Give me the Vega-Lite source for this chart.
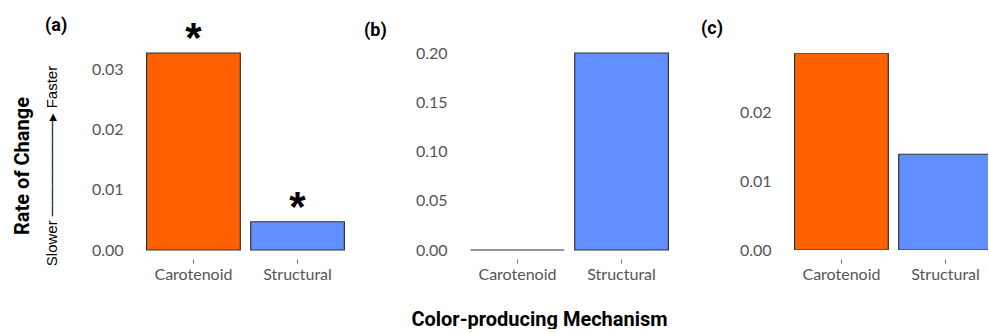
{
  "$schema": "https://vega.github.io/schema/vega-lite/v6.json",
  "padding": {"left": 12, "top": 17, "right": 0, "bottom": 0},
  "datasets": {
    "rates": [
      {"panel": "a", "mechanism": "Carotenoid", "rate": 0.0328, "sig": "*"},
      {"panel": "a", "mechanism": "Structural", "rate": 0.0047, "sig": "*"},
      {"panel": "b", "mechanism": "Carotenoid", "rate": 0.0, "sig": ""},
      {"panel": "b", "mechanism": "Structural", "rate": 0.2, "sig": ""},
      {"panel": "c", "mechanism": "Carotenoid", "rate": 0.0286, "sig": ""},
      {"panel": "c", "mechanism": "Structural", "rate": 0.0139, "sig": ""}
    ]
  },
  "title": {
    "text": "Rate of Change",
    "subtitle": "\u00a0\u00a0\u00a0\u00a0\u00a0Slower ─────────▸ Faster",
    "orient": "left",
    "anchor": "middle",
    "font": "Roboto",
    "fontSize": 20,
    "fontWeight": "bold",
    "color": "black",
    "subtitleFont": "Liberation Sans",
    "subtitleFontSize": 15,
    "subtitleColor": "black",
    "subtitlePadding": 12,
    "offset": -15,
    "dx": 7
  },
  "spacing": 95,
  "bounds": "flush",
  "hconcat": [
    {
      "data": {"name": "rates"},
      "transform": [{"filter": "datum.panel === 'a'"}],
      "width": 229,
      "height": 197,
      "title": {"text": "(a)", "anchor": "start", "frame": "group", "dx": -86, "offset": -31, "baseline": "alphabetic"},
      "layer": [
        {
          "mark": {"type": "bar", "stroke": "#333333", "strokeWidth": 1.2},
          "encoding": {
            "x": {"field": "mechanism", "type": "nominal", "scale": {"paddingInner": 0.1, "paddingOuter": 0.15}, "axis": {"title": null}},
            "y": {"field": "rate", "type": "quantitative", "scale": {"nice": false}, "axis": {"title": null, "values": [0, 0.01, 0.02, 0.03], "format": ".2f"}},
            "color": {"field": "mechanism", "type": "nominal", "scale": {"domain": ["Carotenoid", "Structural"], "range": ["#FF6100", "#628FFF"]}, "legend": null}
          }
        },
        {
          "mark": {"type": "text", "fontSize": 42, "baseline": "alphabetic", "dy": -1, "font": "Liberation Sans", "fontWeight": "bold", "color": "black"},
          "encoding": {
            "x": {"field": "mechanism", "type": "nominal"},
            "y": {"field": "rate", "type": "quantitative"},
            "text": {"field": "sig"}
          }
        }
      ]
    },
    {
      "data": {"name": "rates"},
      "transform": [{"filter": "datum.panel === 'b'"}],
      "width": 229,
      "height": 197,
      "title": {"text": "(b)", "anchor": "start", "frame": "group", "dx": -91, "offset": -9, "baseline": "alphabetic"},
      "mark": {"type": "bar", "stroke": "#333333", "strokeWidth": 1.2},
      "encoding": {
        "x": {"field": "mechanism", "type": "nominal", "scale": {"paddingInner": 0.1, "paddingOuter": 0.15},
              "axis": {"title": "Color-producing Mechanism", "titleFont": "Roboto", "titleFontSize": 20, "titleFontWeight": "bold", "titleColor": "black", "titleX": 84, "titleY": 66, "titleBaseline": "alphabetic", "titleAlign": "center"}},
        "y": {"field": "rate", "type": "quantitative", "scale": {"nice": false}, "axis": {"title": null, "values": [0, 0.05, 0.1, 0.15, 0.2], "format": ".2f"}},
        "color": {"field": "mechanism", "type": "nominal", "scale": {"domain": ["Carotenoid", "Structural"], "range": ["#FF6100", "#628FFF"]}, "legend": null}
      }
    },
    {
      "data": {"name": "rates"},
      "transform": [{"filter": "datum.panel === 'c'"}],
      "width": 209,
      "height": 197,
      "title": {"text": "(c)", "anchor": "start", "frame": "group", "dx": -78, "offset": 1, "baseline": "alphabetic"},
      "mark": {"type": "bar", "stroke": "#333333", "strokeWidth": 1.2, "clip": true},
      "encoding": {
        "x": {"field": "mechanism", "type": "nominal", "scale": {"paddingInner": 0.1, "paddingOuter": 0.15, "range": [0, 229]}, "axis": {"title": null}},
        "y": {"field": "rate", "type": "quantitative", "scale": {"nice": false}, "axis": {"title": null, "values": [0, 0.01, 0.02], "format": ".2f"}},
        "color": {"field": "mechanism", "type": "nominal", "scale": {"domain": ["Carotenoid", "Structural"], "range": ["#FF6100", "#628FFF"]}, "legend": null}
      }
    }
  ],
  "config": {
    "view": {"stroke": null},
    "axis": {"grid": false, "domain": false, "labelFont": "Lato", "labelFontSize": 16, "labelColor": "#555555"},
    "axisX": {"offset": 9, "tickSize": 4, "tickColor": "#777777", "labelPadding": 3, "labelAngle": 0},
    "axisY": {"ticks": false, "labelPadding": 8},
    "title": {"font": "Roboto", "fontSize": 18, "fontWeight": "bold", "color": "black"}
  }
}
